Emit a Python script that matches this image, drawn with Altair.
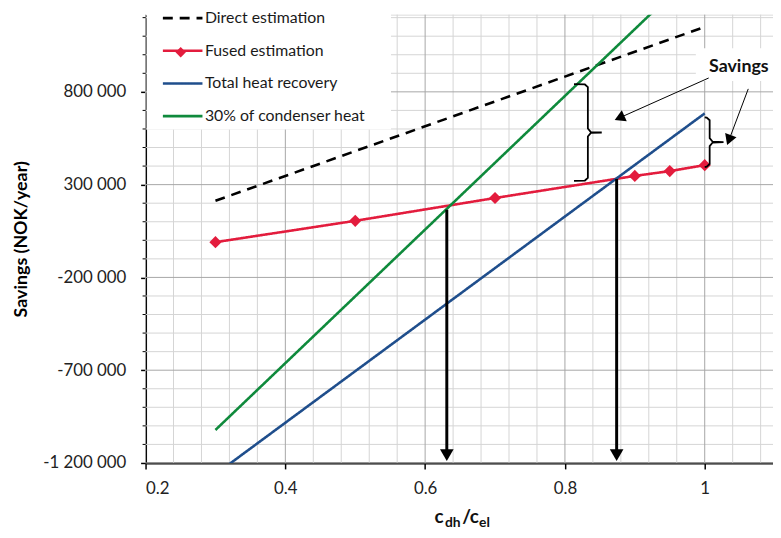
import math
import altair as alt
import pandas as pd

# ---------------- data ----------------
series = ["Direct estimation", "Fused estimation", "Total heat recovery", "30% of condenser heat"]
colors = ["#000000", "#e31c3d", "#1f4e8c", "#0f8a3c"]
dashes = [[10, 7], [1, 0], [1, 0], [1, 0]]
widths = [2.6, 2.6, 3.8, 3.8]

x_direct = [0.3, 1.0]
y_direct = [213000, 1150000]
x_fused = [0.3, 0.5, 0.7, 0.9, 0.95, 1.0]
y_fused = [-10000, 105000, 228000, 347000, 373000, 405000]
x_total = [0.3, 1.0]
y_total = [-1261000, 684000]
x_cond = [0.3, 1.0]
y_cond = [-1022000, 1498000]

x_ticks = [0.2, 0.4, 0.6, 0.8, 1.0]
y_ticks = [-1200000, -700000, -200000, 300000, 800000]

# annotations (data units)
arrow_x = [0.631, 0.874]
arrow_y_start = [165000, 330000]
brace_x = [0.813, 1.0]
brace_top = [842000, 663000]
brace_bottom = [320000, 395000]
brace_hook = [14, 5]      # px
brace_tip = [14, 14]      # px
sav_from_x = [1.0057, 1.0623]
sav_from_y = [874700, 816000]
sav_to_x = [0.8726, 1.0326]
sav_to_y = [650700, 518900]
sav_text = "Savings"
sav_text_x = 1.0488
sav_text_y = 933000
sav_box = [0.9873, 1.0977, 858700, 1034700]

x_min, x_max = 0.2, 1.0977
y_min, y_max = -1200000, 1216000
W, H = 634, 453
PX = W / (x_max - x_min)       # px per x unit
PY = H / (y_max - y_min)       # px per y unit
FONT = "Lato"

xs = alt.Scale(domain=[x_min, x_max], nice=False, zero=False)
ys = alt.Scale(domain=[y_min, y_max], nice=False, zero=False)

x_axis = alt.Axis(values=x_ticks, format="~g", grid=False, domainColor="#000000", domainWidth=2,
                  tickColor="#000000", tickWidth=1.5, tickSize=6, labelFontSize=17, labelFont=FONT,
                  labelColor="#222222", labelPadding=12, title=None)
y_axis = alt.Axis(values=y_ticks, grid=False, domainColor="#000000", domainWidth=2,
                  tickColor="#000000", tickWidth=1.5, tickSize=5, labelFontSize=17, labelFont=FONT,
                  labelColor="#222222", labelPadding=15,
                  labelExpr="(datum.value < 0 ? '-' : '') + replace(format(abs(datum.value), ',d'), regexp(',', 'g'), ' ')",
                  title="Savings (NOK/year)", titleFont=FONT, titleFontSize=18, titleFontWeight="bold",
                  titleColor="#000000", titleX=-125, titleY=H / 2, titleAlign="center",
                  titleBaseline="middle", titleAngle=270)


def X(f):
    return alt.X(f, scale=xs, axis=x_axis)


def Y(f):
    return alt.Y(f, scale=ys, axis=y_axis)


# ---------------- grid ----------------
minor_x = [round(x_min + 0.04 * k, 4) for k in range(0, 23) if x_min + 0.04 * k <= x_max + 1e-9]
major_x = [v for v in minor_x if abs(round(v / 0.2) * 0.2 - v) < 1e-6]
minor_x = [v for v in minor_x if v not in major_x]
minor_y = [y_min + 100000 * k for k in range(0, 25) if y_min + 100000 * k <= y_max]
major_y = [v for v in minor_y if (v - y_min) % 500000 == 0]
minor_y = [v for v in minor_y if v not in major_y]


def vgrid(vals, color):
    return alt.Chart(pd.DataFrame({"x": vals})).mark_rule(color=color, strokeWidth=1).encode(
        x=X("x:Q"), y=alt.value(0), y2=alt.value(H))


def hgrid(vals, color):
    return alt.Chart(pd.DataFrame({"y": vals})).mark_rule(color=color, strokeWidth=1).encode(
        y=Y("y:Q"), x=alt.value(0), x2=alt.value(W))


grid = vgrid(minor_x, "#d4d4d4") + hgrid(minor_y, "#d4d4d4") + vgrid(major_x, "#a6a6a6") + hgrid(major_y, "#a6a6a6")

# small minor ticks on the y axis
minor_ticks = alt.Chart(pd.DataFrame({"y": minor_y})).mark_rule(color="black", strokeWidth=1).encode(
    y=Y("y:Q"), x=alt.value(-3), x2=alt.value(0))

# ---------------- series ----------------
rows = []
for s, xv, yv in [(series[0], x_direct, y_direct), (series[1], x_fused, y_fused),
                  (series[2], x_total, y_total), (series[3], x_cond, y_cond)]:
    for a, b in zip(xv, yv):
        rows.append({"series": s, "x": a, "y": b})
df = pd.DataFrame(rows)

leg = alt.Legend(orient="none", legendX=1, legendY=-20, title=None,
                 padding=2, rowPadding=3, labelFontSize=16, labelFont=FONT, labelColor="#1a1a1a",
                 labelLimit=0, symbolType="stroke", symbolSize=1600, symbolStrokeWidth=3,
                 labelOffset=1, symbolOffset=13)

# white legend box (drawn under the legend so the diamond can sit on the symbol)
legend_box = alt.Chart(pd.DataFrame({"k": [0]})).mark_rect(color="white").encode(
    x=alt.value(1), x2=alt.value(248), y=alt.value(-12), y2=alt.value(116))
legend_diamond = alt.Chart(pd.DataFrame({"k": [0]})).mark_point(
    shape="diamond", filled=True, size=110, opacity=1, color=colors[1]).encode(
    x=alt.value(35.5), y=alt.value(38))

lines = alt.Chart(df).mark_line(clip=True).encode(
    x=X("x:Q"),
    y=Y("y:Q"),
    color=alt.Color("series:N", scale=alt.Scale(domain=series, range=colors), legend=leg),
    strokeDash=alt.StrokeDash("series:N", scale=alt.Scale(domain=series, range=dashes), legend=leg),
    strokeWidth=alt.StrokeWidth("series:N", scale=alt.Scale(domain=series, range=widths), legend=None),
    detail="series:N",
)

fused_pts = alt.Chart(df[df.series == series[1]]).mark_point(
    shape="diamond", filled=True, size=150, opacity=1, color=colors[1]).encode(
    x=X("x:Q"), y=Y("y:Q"))

# ---------------- vertical arrows ----------------
arr = pd.DataFrame({"x": arrow_x, "y0": arrow_y_start,
                    "y1": [y_min + 10 / PY] * 2, "yh": [y_min + 8 / PY] * 2})
v_rules = alt.Chart(arr).mark_rule(color="black", strokeWidth=3).encode(
    x=X("x:Q"), y=Y("y0:Q"), y2="y1:Q")
v_heads = alt.Chart(arr).mark_point(shape="triangle-down", filled=True, size=190, opacity=1,
                                    color="black").encode(x=X("x:Q"), y=Y("yh:Q"))

# ---------------- braces ----------------
brows = []
for i in range(len(brace_x)):
    L = (brace_top[i] - brace_bottom[i]) * PY
    m = L / 2
    h, t = brace_hook[i], brace_tip[i]
    pts = [(0, 0), (h - 3, 0.4), (h, 3), (h, m - 4), (h + 3, m - 0.4), (h + t, m),
           (h + 3, m + 0.4), (h, m + 4), (h, L - 3), (h - 3, L - 0.4), (0, L)]
    for k, (dx, dy) in enumerate(pts):
        brows.append({"b": i, "o": k, "x": brace_x[i] + dx / PX, "y": brace_top[i] - dy / PY})
braces = alt.Chart(pd.DataFrame(brows)).mark_line(color="black", strokeWidth=1.8).encode(
    x=X("x:Q"), y=Y("y:Q"), order="o:Q", detail="b:N")

# ---------------- savings label + arrows ----------------
box = alt.Chart(pd.DataFrame({"x": [sav_box[0]], "x2": [sav_box[1]], "y": [sav_box[2]], "y2": [sav_box[3]]})
                ).mark_rect(color="white").encode(x=X("x:Q"), x2="x2:Q", y=Y("y:Q"), y2="y2:Q")
srows = []
for i in range(len(sav_from_x)):
    dxp = (sav_to_x[i] - sav_from_x[i]) * PX
    dyp = -(sav_to_y[i] - sav_from_y[i]) * PY
    ln = math.hypot(dxp, dyp)
    ux, uy = dxp / ln, dyp / ln
    ang = math.degrees(math.atan2(ux, -uy)) % 360
    back = 6
    hx = sav_to_x[i] - ux * back / PX
    hy = sav_to_y[i] + uy * back / PY
    srows.append({"x0": sav_from_x[i], "y0": sav_from_y[i], "x1": hx, "y1": hy, "ang": ang})
sdf = pd.DataFrame(srows)
s_lines = alt.Chart(sdf).mark_rule(color="black", strokeWidth=1).encode(
    x=X("x0:Q"), y=Y("y0:Q"), x2="x1:Q", y2="y1:Q")
s_heads = alt.Chart(sdf).mark_point(shape="triangle", filled=True, size=150, opacity=1,
                                    color="black").encode(
    x=X("x1:Q"), y=Y("y1:Q"), angle=alt.Angle("ang:Q", scale=None))
s_text = alt.Chart(pd.DataFrame({"x": [sav_text_x], "y": [sav_text_y], "t": [sav_text]})).mark_text(
    font=FONT, fontSize=18, fontWeight="bold", color="#111111", align="center", baseline="middle").encode(
    x=X("x:Q"), y=Y("y:Q"), text="t:N")

# ---------------- x-axis title with subscripts ----------------
tparts = pd.DataFrame({
    "t": ["c", "dh", "/", "c", "el"],
    "px": [292, 302.5, 320, 327.5, 337],
    "py": [514, 517.5, 514, 514, 517.5],
    "fs": [19, 14, 19, 19, 14],
})
title_layers = []
for _, r in tparts.iterrows():
    title_layers.append(alt.Chart(pd.DataFrame({"t": [r.t]})).mark_text(
        font=FONT, fontSize=float(r.fs), fontWeight="bold", color="#111111", align="left",
        baseline="alphabetic").encode(x=alt.value(float(r.px)), y=alt.value(float(r.py)), text="t:N"))

chart = alt.layer(grid, minor_ticks, lines, fused_pts, v_rules, v_heads, braces, box, s_lines, s_heads,
                  s_text, legend_box, legend_diamond, *title_layers).properties(
    width=W, height=H,
    autosize=alt.AutoSizeParams(type="none"),
    padding={"left": 139, "top": 4, "right": 0, "bottom": 66},
).configure_view(stroke=None).configure(background="white")

chart.save("out.html", embed_options={"renderer": "svg", "actions": False})
